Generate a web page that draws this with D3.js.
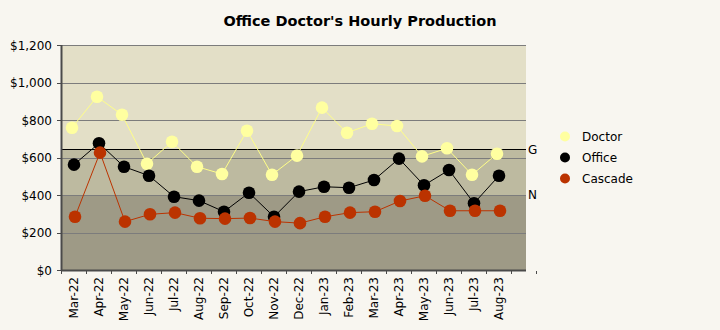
<!DOCTYPE html>
<html>
<head>
<meta charset="utf-8">
<script src="https://cdn.jsdelivr.net/npm/d3@7"></script>
<style>
  html, body { margin: 0; padding: 0; background: #f8f6f0; }
  svg { display: block; font-family: "DejaVu Sans", Verdana, sans-serif; }
</style>
</head>
<body>
<svg id="chart" width="720" height="330"></svg>
<script>
// Monthly categories
const months = ["Mar-22","Apr-22","May-22","Jun-22","Jul-22","Aug-22","Sep-22","Oct-22","Nov-22","Dec-22",
                "Jan-23","Feb-23","Mar-23","Apr-23","May-23","Jun-23","Jul-23","Aug-23"];
// Hourly production per series
const doctor  = [759, 924, 828, 567, 684, 551, 512, 743, 508, 610, 866, 732, 780, 768, 606, 649, 508, 620];
const office  = [562, 676, 551, 503, 391, 370, 311, 412, 284, 418, 444, 439, 480, 594, 452, 533, 356, 503];
const cascade = [284, 626, 258, 297, 306, 276, 274, 277, 258, 250, 284, 306, 311, 368, 396, 316, 316, 316];
// Reference levels
const goalLevel = 645;
const normLevel = 400;
const yTicks = [0, 200, 400, 600, 800, 1000, 1200];

const series = [
  {name: "Doctor",  values: doctor,  color: "#ffffa0", line: "#ffff88", dx: -1.5},
  {name: "Office",  values: office,  color: "#000000", line: "#000000", dx: 0.5},
  {name: "Cascade", values: cascade, color: "#bb3300", line: "#bb3300", dx: 1.5}
];

const svg = d3.select("#chart");
const plotLeft = 61, plotTop = 45, plotBottom = 270, plotRight = 526;

// 18 month slots plus one empty trailing slot on the axis
const x = d3.scaleBand().domain(months).range([plotLeft, plotLeft + months.length * 25]).paddingInner(0).paddingOuter(0);
const y = d3.scaleLinear().domain([0, 1200]).range([plotBottom, plotTop]);

// Background bands
const bands = [
  {from: goalLevel, to: 1200, fill: "#e3dfc7"},
  {from: normLevel, to: goalLevel, fill: "#bdbaa0"},
  {from: 0, to: normLevel, fill: "#9e9a86"}
];
svg.append("g").selectAll("rect").data(bands).join("rect")
  .attr("x", plotLeft)
  .attr("width", plotRight - plotLeft)
  .attr("y", d => y(d.to))
  .attr("height", d => y(d.from) - y(d.to))
  .attr("fill", d => d.fill);

// Gridlines
svg.append("g").selectAll("line").data(yTicks.filter(v => v > 0)).join("line")
  .attr("x1", plotLeft).attr("x2", plotRight)
  .attr("y1", d => Math.round(y(d)) + 0.5).attr("y2", d => Math.round(y(d)) + 0.5)
  .attr("stroke", "#7c7c7c").attr("stroke-width", 1);

// Goal line
svg.append("line")
  .attr("x1", plotLeft).attr("x2", plotRight)
  .attr("y1", Math.round(y(goalLevel)) + 0.5).attr("y2", Math.round(y(goalLevel)) + 0.5)
  .attr("stroke", "#000").attr("stroke-width", 1);

svg.append("text").attr("x", 528).attr("y", y(goalLevel) + 4.5)
  .attr("font-size", 12).attr("fill", "#000").text("G");
svg.append("text").attr("x", 528).attr("y", y(normLevel) + 3.5)
  .attr("font-size", 12).attr("fill", "#000").text("N");

// Y axis
svg.append("line").attr("x1", plotLeft + 0.5).attr("x2", plotLeft + 0.5).attr("y1", plotTop).attr("y2", plotBottom + 1)
  .attr("stroke", "#4a4a4a").attr("stroke-width", 2);
svg.append("g").selectAll("line").data(yTicks).join("line")
  .attr("x1", plotLeft - 4).attr("x2", plotLeft)
  .attr("y1", d => Math.round(y(d)) + 0.5).attr("y2", d => Math.round(y(d)) + 0.5)
  .attr("stroke", "#4a4a4a");
svg.append("g").selectAll("text").data(yTicks).join("text")
  .attr("x", 52).attr("y", d => y(d) + 4.5)
  .attr("text-anchor", "end").attr("font-size", 12).attr("fill", "#000")
  .text(d => d3.format("$,")(d));

// X axis
svg.append("line").attr("x1", plotLeft).attr("x2", plotRight).attr("y1", plotBottom + 0.5).attr("y2", plotBottom + 0.5)
  .attr("stroke", "#4a4a4a").attr("stroke-width", 2);
const tickPos = months.map(m => x(m)).concat([x.range()[1], x.range()[1] + x.bandwidth()]);
svg.append("g").selectAll("line").data(tickPos).join("line")
  .attr("x1", d => Math.round(d) + 0.5).attr("x2", d => Math.round(d) + 0.5)
  .attr("y1", plotBottom + 1).attr("y2", plotBottom + 4)
  .attr("stroke", "#4a4a4a");
svg.append("g").selectAll("text").data(months).join("text")
  .attr("transform", d => `translate(${x(d) + x.bandwidth() / 2 + 4},277) rotate(-90)`)
  .attr("text-anchor", "end").attr("font-size", 12).attr("fill", "#000")
  .text(d => d);

// Series lines and markers
const sg = svg.append("g").selectAll("g").data(series).join("g");
sg.append("path")
  .attr("fill", "none")
  .attr("stroke", d => d.line)
  .attr("stroke-width", 1)
  .attr("d", s => d3.line()
    .x((v, i) => x(months[i]) + x.bandwidth() / 2 + s.dx)
    .y(v => y(v))(s.values));
sg.each(function(s) {
  d3.select(this).selectAll("circle").data(s.values).join("circle")
    .attr("cx", (v, i) => x(months[i]) + x.bandwidth() / 2 + s.dx)
    .attr("cy", v => y(v))
    .attr("r", 6.3)
    .attr("fill", s.color);
});

// Title
svg.append("text").attr("x", 360).attr("y", 26)
  .attr("text-anchor", "middle").attr("font-size", 14.5).attr("font-weight", "bold").attr("fill", "#000")
  .text("Office Doctor's Hourly Production");

// Legend
const lg = svg.append("g").selectAll("g").data(series).join("g")
  .attr("transform", (d, i) => `translate(565,${136.5 + i * 21})`);
lg.append("circle").attr("r", 5).attr("fill", d => d.color);
lg.append("text").attr("x", 17).attr("y", 4.5).attr("font-size", 12).attr("fill", "#000").text(d => d.name);
</script>
</body>
</html>
